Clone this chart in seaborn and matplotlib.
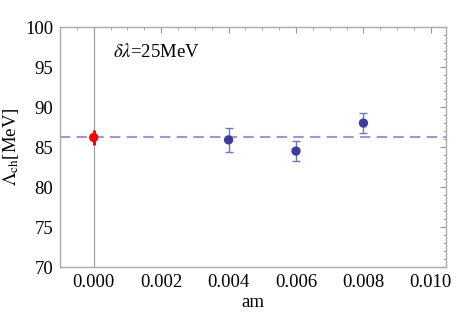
import numpy as np
import matplotlib
matplotlib.use('Agg')
import matplotlib.pyplot as plt
import seaborn as sns
from matplotlib.ticker import MultipleLocator

# data
am_chiral = [0.0]
lam_chiral = [86.2]
err_chiral = [0.9]

am_pts = [0.004, 0.006, 0.008]
lam_pts = [85.9, 84.5, 88.0]
err_pts = [1.5, 1.2, 1.2]

fit_level = 86.2

sns.set_style('white')
plt.rcParams['font.family'] = ['Liberation Serif', 'DejaVu Serif']
plt.rcParams['mathtext.fontset'] = 'stix'
plt.rcParams['text.color'] = 'black'
plt.rcParams['axes.labelcolor'] = 'black'
plt.rcParams['xtick.labelcolor'] = 'black'
plt.rcParams['ytick.labelcolor'] = 'black'

fig = plt.figure(figsize=(4.74, 3.18), dpi=100)
ax = fig.add_axes([0.1266, 0.160, 0.8144, 0.755])

ax.axvline(0, color='#999999', lw=0.8, zorder=0)
ax.axhline(fit_level, color='#9a9acc', lw=1.5, ls=(0, (5, 3)), zorder=1)

ax.errorbar(am_pts, lam_pts, yerr=err_pts, fmt='none', ecolor='#7474b8',
            elinewidth=1.0, capsize=3, capthick=1.0, zorder=2)
sns.scatterplot(x=am_pts, y=lam_pts, color='#3c3c9c', s=45, edgecolor='none',
                ax=ax, zorder=3)

ax.errorbar(am_chiral, lam_chiral, yerr=err_chiral, fmt='none', ecolor='#ff0000',
            elinewidth=2.2, capsize=0, zorder=2)
sns.scatterplot(x=am_chiral, y=lam_chiral, color='#ff0000', s=45, edgecolor='none',
                ax=ax, zorder=3)

ax.set_xlim(-0.001, 0.01045)
ax.set_ylim(70, 100)
ax.xaxis.set_major_locator(MultipleLocator(0.002))
ax.xaxis.set_minor_locator(MultipleLocator(0.0005))
ax.yaxis.set_major_locator(MultipleLocator(5))
ax.yaxis.set_minor_locator(MultipleLocator(1))
ax.xaxis.set_major_formatter(plt.FuncFormatter(lambda v, p: f'{v:.3f}'))

ax.tick_params(which='both', direction='in', top=True, right=True, color='#999999')
ax.tick_params(which='major', length=4, width=0.8, labelsize=13.5, pad=5)
ax.tick_params(which='minor', length=2, width=0.6)
for s in ax.spines.values():
    s.set_color('#aaaaaa')
    s.set_linewidth(1.0)

ax.set_xlabel('am', fontsize=13.5, labelpad=2)
ax.set_ylabel(r'$\Lambda_{\rm ch}$[MeV]', fontsize=13.5, labelpad=3)
ax.text(0.00058, 96.9, r'$\delta\lambda$=25MeV', fontsize=13.5, va='center', ha='left')

fig.savefig('out.png', dpi=100)
